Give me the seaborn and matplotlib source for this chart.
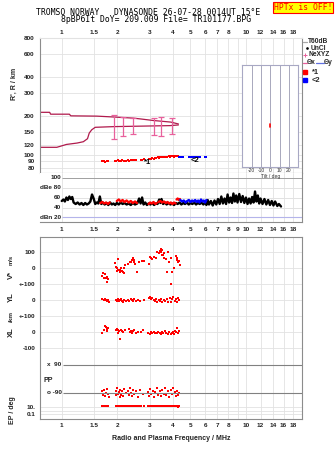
import numpy as np
import pandas as pd
import seaborn as sns
import matplotlib
matplotlib.use("Agg")
import matplotlib.pyplot as plt
from matplotlib.lines import Line2D
from matplotlib.ticker import NullLocator

# ---------------- data ----------------
grid_freqs = [1, 1.5, 2, 3, 4, 5, 6, 7, 8, 9, 10, 12, 14, 16, 18]
top_freq_labels = ["1", "1.5", "2", "3", "4", "5", "6", "7", "8", "", "10", "12", "14", "16", "18"]
mid_freq_labels = ["1", "1.5", "2", "3", "4", "5", "6", "7", "8", "9", "10", "12", "14", "16", "18"]
range_ticks = [80, 90, 100, 120, 150, 200, 300, 400, 600, 800]
range_labels = ["80", "90", "100", "120", "150", "200", "300", "400", "600", "800"]

upper_f = [0.762, 0.86, 0.87, 1.10, 1.12, 1.55, 1.90, 2.45, 2.70, 3.15, 3.90, 4.30]
upper_r = [214, 214, 207, 207, 201, 200, 197, 193, 190, 185, 180, 174]
lower_f = [0.762, 0.94, 1.00, 1.06, 1.21, 1.31, 1.38, 1.41, 1.455, 1.52, 1.91, 3.88, 4.30]
lower_r = [115, 115, 118, 121, 124, 127, 134, 148, 157, 164, 166, 169, 171]

err_f = [1.93, 2.14, 2.45, 3.15, 3.46, 3.99]
err_lo = [133, 141, 145, 143, 141, 145]
err_hi = [205, 197, 193, 195, 197, 193]

o_f = [1.66, 1.69, 1.72, 1.75, 1.78, 1.95, 1.98, 2.01, 2.04, 2.07, 2.10, 2.13, 2.17, 2.22,
       2.28, 2.33, 2.38, 2.43, 2.48, 2.53, 2.68, 2.74, 2.80, 2.96, 3.00, 3.05, 3.10, 3.15,
       3.20, 3.26, 3.31, 3.37, 3.43, 3.50, 3.56, 3.62, 3.68, 3.75, 3.82, 3.88, 3.94, 4.00,
       4.06, 4.12, 4.18, 4.24, 4.30]
o_r = [89.5, 90.5, 89, 90, 89.5, 91, 90, 91.5, 90.5, 91, 90, 91.5, 90.5, 91,
       91.5, 91, 92, 91.5, 92, 91.5, 92.5, 92, 93, 93, 94, 93.5, 94.5, 94,
       95, 94.5, 96, 95.5, 96.5, 96, 97, 96.5, 97.5, 97, 98, 97, 98.5, 98,
       97.5, 98.5, 98, 99, 98]
x_f = [4.35, 4.42, 4.50, 4.58, 4.88, 4.95, 5.03, 5.10, 5.18, 5.27, 5.35, 5.45, 5.55, 5.62, 6.02, 6.10]
x_r = [96.5, 96, 96.5, 96, 96.5, 97, 96, 96.5, 97, 96, 96.5, 97, 96, 96.5, 97, 97.5]

tilt_x = [0, 0]
tilt_r = [164, 173]

# amplitude trace (dB)
amp_f = [1.00, 1.02, 1.04, 1.06, 1.08, 1.10, 1.12, 1.14, 1.16, 1.19, 1.22, 1.25, 1.28, 1.31,
         1.34, 1.37, 1.40, 1.43, 1.46, 1.49, 1.52, 1.55, 1.58, 1.61, 1.64, 1.67, 1.71, 1.75,
         1.79, 1.83, 1.87, 1.91, 1.95, 1.99, 2.04, 2.09, 2.14, 2.19, 2.25, 2.31, 2.37, 2.43,
         2.50, 2.57, 2.63, 2.68, 2.73, 2.78, 2.84, 2.90, 2.96, 3.03, 3.10, 3.17, 3.24, 3.31,
         3.38, 3.43, 3.48, 3.55, 3.63, 3.71, 3.80, 3.89, 3.98, 4.07, 4.16, 4.26, 4.36, 4.46,
         4.56, 4.67, 4.78, 4.89, 5.00, 5.12, 5.24, 5.36, 5.48, 5.61, 5.74, 5.87, 6.00, 6.10,
         6.20, 6.30, 6.45, 6.60, 6.75, 6.90, 7.05, 7.20, 7.35, 7.50, 7.65, 7.80, 7.95, 8.10,
         8.25, 8.40, 8.55, 8.70, 8.85, 9.00, 9.20, 9.40, 9.60, 9.80, 10.0, 10.2, 10.4, 10.6,
         10.8, 11.0, 11.2, 11.4, 11.6, 11.8, 12.0, 12.3, 12.6, 12.9, 13.2, 13.5, 13.8, 14.1,
         14.4, 14.8, 15.1, 15.5]
amp_db = [53, 56, 52, 60, 55, 62, 57, 61, 50, 47, 50, 46, 49, 45,
          49, 46, 48, 52, 66, 58, 47, 50, 48, 62, 47, 50, 46, 49,
          45, 50, 46, 48, 45, 49, 46, 50, 47, 49, 46, 48, 45, 49,
          46, 48, 58, 48, 60, 46, 50, 45, 48, 46, 49, 45, 48, 47,
          56, 49, 57, 47, 50, 46, 49, 46, 48, 45, 49, 47, 50, 46,
          49, 47, 50, 46, 49, 47, 50, 46, 49, 47, 50, 46, 50, 45,
          55, 46, 53, 44, 54, 46, 57, 47, 62, 48, 58, 47, 66, 50,
          60, 49, 68, 52, 64, 50, 67, 51, 63, 49, 60, 47, 58, 48,
          61, 50, 72, 52, 64, 48, 58, 47, 57, 46, 55, 45, 53, 44,
          52, 43, 47, 42]

amp_o_seg = [1] * 6 + [2] * 11 + [3] * 6 + [4] * 11 + [5] * 4
amp_o_f = [1.62, 1.66, 1.70, 1.74, 1.78, 1.82,
           1.99, 2.04, 2.09, 2.14, 2.19, 2.25, 2.31, 2.37, 2.43, 2.50, 2.56,
           2.96, 3.02, 3.08, 3.15, 3.22, 3.28,
           3.35, 3.43, 3.51, 3.59, 3.67, 3.75, 3.83, 3.91, 3.99, 4.07, 4.15,
           4.20, 4.26, 4.32, 4.38]
amp_o_db = [49, 51, 48, 50, 47, 50,
            53, 56, 52, 55, 51, 54, 50, 53, 49, 52, 49,
            47, 50, 48, 51, 47, 49,
            51, 53, 50, 52, 49, 51, 48, 50, 47, 50, 48,
            56, 58, 55, 57]
amp_x_f = [4.40, 4.50, 4.60, 4.70, 4.80, 4.90, 5.00, 5.10, 5.20, 5.30, 5.40, 5.50, 5.60, 5.70,
           5.80, 5.90, 6.00, 6.10]
amp_x_db = [55, 52, 54, 50, 53, 55, 51, 54, 52, 55, 51, 54, 50, 56, 52, 54, 50, 55]

# velocity components (m/s)
vs_f = [1.65, 1.68, 1.72, 1.74, 1.76, 1.77, 1.79, 1.70, 1.95, 1.97, 1.99, 2.00, 2.03, 2.06,
        2.08, 2.10, 2.12, 2.15, 2.17, 2.18, 2.21, 2.03, 2.30, 2.34, 2.38, 2.41, 2.44, 2.46,
        2.48, 2.51, 2.56, 2.62, 2.73, 2.79, 2.97, 3.00, 3.06, 3.09, 3.16, 3.23, 3.30, 3.37,
        3.41, 3.44, 3.47, 3.51, 3.55, 3.59, 3.61, 3.66, 3.71, 3.82, 3.77, 3.93, 3.98, 4.06,
        4.15, 4.20, 4.24, 4.28, 4.33, 4.37, 3.90, 3.48]
vs_v = [-48, -33, -40, -60, -54, -85, -69, -60, 29, 8, -2, -19, -12, -23,
        -12, 2, -17, -23, -2, -33, 19, 54, 23, 40, 35, 50, 60, 40,
        52, 23, -23, 40, 44, 44, 23, 71, 60, 54, 71, 65, 102, 92,
        106, 119, 102, 112, 81, 92, 60, 54, -23, 40, 102, 65, -23, -2,
        75, 60, 50, 40, 44, 19, -102, 81]

yl_f = [1.66, 1.69, 1.72, 1.74, 1.76, 1.78, 1.80, 1.96, 1.99, 2.02, 2.05, 2.07, 2.10, 2.12,
        2.15, 2.18, 2.22, 2.30, 2.33, 2.37, 2.40, 2.44, 2.48, 2.52, 2.58, 2.65, 2.78, 2.96,
        3.00, 3.04, 3.08, 3.16, 3.20, 3.25, 3.30, 3.36, 3.42, 3.47, 3.52, 3.58, 3.65, 3.72,
        3.78, 3.85, 3.90, 3.96, 4.03, 4.10, 4.15, 4.22, 4.28, 4.35]
yl_v = [5, -3, 8, 0, -5, 3, -12, 2, -6, 4, -8, 0, 6, -4,
        -10, 2, -6, 3, -8, 5, -2, -5, 4, -9, 0, -4, 2, 10,
        18, 8, 14, -2, -8, 4, -12, 2, -4, 6, -14, 0, -6, 4,
        -10, 12, -15, 8, 16, -6, 4, -12, 10, -2]

xl_f = [1.66, 1.69, 1.71, 1.73, 1.75, 1.77, 1.79, 1.96, 1.99, 2.01, 2.03, 2.05, 2.08, 2.10,
        2.12, 2.15, 2.20, 2.31, 2.34, 2.37, 2.40, 2.44, 2.48, 2.52, 2.58, 2.68, 2.77, 2.95,
        3.00, 3.05, 3.10, 3.16, 3.22, 3.28, 3.35, 3.40, 3.45, 3.50, 3.56, 3.62, 3.70, 3.78,
        3.84, 3.90, 3.97, 4.03, 4.08, 4.13, 4.18, 4.22, 4.28, 4.33]
xl_v = [-5, 15, 40, 30, 20, 8, 25, 10, 20, -6, 12, 4, -44, 15,
        6, 2, 10, 18, 0, 8, -4, 4, 10, -8, -2, 0, 12, -4,
        -10, -2, -8, 0, -6, -4, 2, -6, -10, -2, -8, 4, -4, -10,
        2, -12, -6, 0, -14, 6, 2, 24, -8, 4]

pp_f = [1.66, 1.68, 1.70, 1.72, 1.74, 1.76, 1.78, 1.80, 1.96, 1.98, 2.00, 2.02, 2.04, 2.06,
        2.08, 2.10, 2.13, 2.16, 2.19, 2.22, 2.30, 2.33, 2.36, 2.39, 2.42, 2.45, 2.48, 2.52,
        2.58, 2.66, 2.75, 2.95, 2.99, 3.03, 3.07, 3.12, 3.17, 3.22, 3.28, 3.34, 3.40, 3.46,
        3.52, 3.58, 3.64, 3.70, 3.77, 3.84, 3.90, 3.97, 4.04, 4.10, 4.16, 4.22, 4.28, 4.34]
pp_deg = [-80, -100, -70, -110, -90, -65, -95, -115, -75, -105, -60, -95, -85, -115,
          -70, -100, -80, -110, -65, -90, -75, -105, -60, -90, -110, -70, -95, -80,
          -115, -70, -95, -85, -110, -65, -95, -75, -115, -85, -60, -100, -80, -110,
          -70, -95, -60, -105, -80, -115, -70, -95, -60, -85, -110, -75, -100, -88]

ep_f = [1.66, 1.69, 1.72, 1.75, 1.78, 1.96, 1.99, 2.02, 2.05, 2.08, 2.11, 2.14, 2.17, 2.20,
        2.27, 2.31, 2.35, 2.39, 2.43, 2.47, 2.51, 2.55, 2.62, 2.70, 2.78, 2.94, 2.98, 3.02,
        3.06, 3.10, 3.15, 3.20, 3.25, 3.30, 3.35, 3.41, 3.46, 3.52, 3.58, 3.64, 3.70, 3.76,
        3.82, 3.88, 3.95, 4.02, 4.08, 4.15, 4.21, 4.27, 4.33]
ep_deg = [18, 15, 20, 16, 19, 17, 22, 15, 19, 16, 21, 18, 14, 19,
          17, 20, 15, 18, 22, 16, 19, 15, 18, 14, 17, 19, 16, 21,
          17, 14, 19, 16, 20, 15, 18, 22, 17, 14, 19, 16, 21, 15,
          18, 14, 19, 16, 20, 15, 18, 13, 19]

# ---------------- style / layout ----------------
sns.set_theme(style="white")
plt.rcParams['font.family'] = ['Liberation Sans', 'DejaVu Sans']

W, H = 335, 451
FLIM = (0.762, 20.15)
GRID = '#e2e2e2'
SPINE = '#8c8c8c'
CRIMSON = '#b01a4c'
PINK = '#e8609c'
TFS = 4.6

fig = plt.figure(figsize=(W / 100, H / 100), dpi=100)


def rect(l, t, r, b):
    return [l / W, 1 - b / H, (r - l) / W, (b - t) / H]


def fx(x):
    return x / W


def fy(y):
    return 1 - y / H


def freq_axis(ax):
    ax.set_xscale('log')
    ax.set_xlim(*FLIM)
    ax.set_xticks(grid_freqs)
    ax.xaxis.set_minor_locator(NullLocator())
    ax.grid(axis='x', color=GRID, lw=0.6)
    ax.set_axisbelow(True)
    ax.tick_params(length=0, labelsize=TFS, colors='#222222')


def bold_ticks(ax):
    for t in ax.get_xticklabels() + ax.get_yticklabels():
        t.set_fontweight('bold')


def spines(ax, color=SPINE, lw=0.8):
    for s in ax.spines.values():
        s.set_color(color)
        s.set_linewidth(lw)


ax_top = fig.add_axes(rect(40, 38, 302, 173))
ax_db = fig.add_axes(rect(40, 173, 302, 222))
ax_bot = fig.add_axes(rect(40, 237, 302, 419))

# ---------------- top panel: range ----------------
freq_axis(ax_top)
ax_top.set_yscale('log')
ax_top.set_ylim(72.9, 800)
ax_top.set_yticks(range_ticks)
ax_top.set_yticklabels(range_labels)
ax_top.yaxis.set_minor_locator(NullLocator())
ax_top.grid(axis='y', color=GRID, lw=0.6)
ax_top.xaxis.tick_top()
ax_top.set_xticklabels(top_freq_labels)
ax_top.tick_params(axis='x', pad=2.0)
ax_top.tick_params(axis='y', pad=4.0)
spines(ax_top)
ax_top.spines['top'].set_color(GRID)

sns.lineplot(x=upper_f, y=upper_r, ax=ax_top, color=CRIMSON, lw=0.9,
             estimator=None, sort=False)
sns.lineplot(x=lower_f, y=lower_r, ax=ax_top, color=CRIMSON, lw=0.9,
             estimator=None, sort=False)
err_lo_a = np.array(err_lo, float)
err_hi_a = np.array(err_hi, float)
err_mid = (err_lo_a + err_hi_a) / 2
ax_top.errorbar(err_f, err_mid, yerr=[err_mid - err_lo_a, err_hi_a - err_mid], fmt='none',
                ecolor=PINK, elinewidth=0.9, capsize=2.0, capthick=0.9)
sns.scatterplot(x=o_f, y=o_r, ax=ax_top, color='#ff0000', marker='s', s=4, linewidth=0)
sns.scatterplot(x=x_f, y=x_r, ax=ax_top, color='#0000ff', marker='s', s=4, linewidth=0)
ax_top.text(2.93, 88.5, "*1", fontsize=5.5, fontweight='bold', ha='center', va='center', color='black')
ax_top.text(5.30, 90.5, "<2", fontsize=5.5, fontweight='bold', ha='center', va='center', color='black')
ax_top.set_xlabel('')
ax_top.set_ylabel('')
bold_ticks(ax_top)

# inset tilt panel
ax_in = fig.add_axes(rect(242.3, 65, 298.3, 167.3))
ax_in.set_facecolor('white')
ax_in.set_xlim(-30, 30)
ax_in.set_yscale('log')
ax_in.set_ylim(80.3, 496)
ax_in.set_yticks([])
ax_in.yaxis.set_minor_locator(NullLocator())
ax_in.set_xticks([-20, -10, 0, 10, 20])
ax_in.set_xticklabels(["-20", "-10", "0", "10", "20"])
ax_in.grid(axis='x', color='#a8a8bc', lw=0.7)
ax_in.tick_params(length=0, labelsize=3.6, pad=0.8, colors='#333333')
ax_in.set_xlabel("Tilt / deg", fontsize=3.6, labelpad=0.2, color='#333333')
spines(ax_in, '#a8a8c4', 0.8)
sns.lineplot(x=tilt_x, y=tilt_r, ax=ax_in, color='#ff0000', lw=1.2, estimator=None, sort=False)
ax_in.set_ylabel('')

# ---------------- dB panel ----------------
freq_axis(ax_db)
ax_db.set_ylim(11, 109)
ax_db.set_yticks([])
ax_db.set_xticklabels(mid_freq_labels)
ax_db.tick_params(axis='x', pad=3.6)
spines(ax_db)
ax_db.spines['left'].set_visible(False)
ax_db.spines['top'].set_visible(False)
ax_db.hlines([100], 1.0, FLIM[1], color='#a0a0a0', lw=0.7, zorder=1)
ax_db.hlines([80, 60, 40], 1.0, FLIM[1], color=GRID, lw=0.7, zorder=1)
ax_db.hlines([20], 1.0, FLIM[1], color='#b4b4ea', lw=0.8, zorder=1)
for v, s in [(100, "100"), (80, "dBe 80"), (60, "60"), (40, "40"), (20, "dBn 20")]:
    ax_db.text(0.99, v, s, ha='right', va='center', fontsize=TFS, fontweight='bold', color='#222222')
sns.lineplot(x=amp_f, y=amp_db, ax=ax_db, color='black', lw=1.7, estimator=None, sort=False)
amp_o = pd.DataFrame({'f': amp_o_f, 'db': amp_o_db, 'seg': amp_o_seg})
sns.lineplot(data=amp_o, x='f', y='db', units='seg', ax=ax_db, color='#ff0000', lw=1.7,
             estimator=None, sort=False)
sns.lineplot(x=amp_x_f, y=amp_x_db, ax=ax_db, color='#0000ff', lw=1.7, estimator=None, sort=False)
ax_db.set_xlabel('')
ax_db.set_ylabel('')
bold_ticks(ax_db)

# ---------------- bottom panel: velocities, polarization ----------------
freq_axis(ax_bot)
ax_bot.set_ylim(-151, 31)
bot_ticks = [16, 0, -16, -32, -48, -64, -80, -139, -142.5, -146]
bot_labels = ["100", "0", "+-100", "0", "+-100", "0", "-100", "10.", "", "0.1"]
ax_bot.set_yticks(bot_ticks)
ax_bot.set_yticklabels(bot_labels)
ax_bot.grid(axis='y', color=GRID, lw=0.6)
ax_bot.set_xticklabels(top_freq_labels)
ax_bot.tick_params(axis='x', pad=3.0)
ax_bot.tick_params(axis='y', pad=3.5)
spines(ax_bot)
ax_bot.hlines([-97, -125], 1.02, FLIM[1], color='#808080', lw=0.8, zorder=1.5)
ax_bot.text(0.83, -97, "x  90", fontsize=TFS, fontweight='bold', ha='left', va='center', color='#222222')
ax_bot.text(0.83, -125, "o -90", fontsize=TFS, fontweight='bold', ha='left', va='center', color='#222222')
ax_bot.text(0.80, -112, "PP", fontsize=TFS + 0.4, fontweight='bold', ha='left', va='center', color='#222222')

vs_u = 0.16 * np.array(vs_v, float)
yl_u = -32 + 0.16 * np.array(yl_v, float)
xl_u = -64 + 0.16 * np.array(xl_v, float)
pp_u = -111 + np.array(pp_deg, float) * 28 / 180
ep_u = -146 + 3.5 * (np.log10(np.array(ep_deg, float)) + 1)
for fr, uu in [(vs_f, vs_u), (yl_f, yl_u), (xl_f, xl_u), (pp_f, pp_u), (ep_f, ep_u)]:
    sns.scatterplot(x=fr, y=uu, ax=ax_bot, color='#ff0000', marker='s', s=4, linewidth=0)
ax_bot.set_xlabel('')
ax_bot.set_ylabel('')
bold_ticks(ax_bot)

# ---------------- figure texts ----------------
mono = 'DejaVu Sans Mono'
fig.text(fx(148.5), fy(12.3), "TROMSO NORWAY   DYNASONDE 26-07-28 0014UT 15°E",
         family=mono, fontsize=5.9, ha='center', va='center', color='black')
fig.text(fx(156.5), fy(20), "8pBP6It DoY= 209.009 File= TR101177.BPG",
         family=mono, fontsize=5.9, ha='center', va='center', color='black')
fig.text(fx(302.8), fy(7.5), "HPTx is OFF!", family=mono, fontsize=5.8, ha='center', va='center',
         color='#ff0000',
         bbox=dict(boxstyle='square,pad=0.12', facecolor='#ffff00', edgecolor='#ff0000', lw=0.8))

fig.text(fx(14), fy(84), "R', R / km", rotation=90, fontsize=5, fontweight='bold', ha='center', va='center')
fig.text(fx(11), fy(275), "V*", rotation=90, fontsize=5.5, fontweight='bold', ha='center', va='center')
fig.text(fx(11), fy(260), "m/s", rotation=90, fontsize=4.2, fontweight='bold', ha='center', va='center')
fig.text(fx(11), fy(297), "YL", rotation=90, fontsize=5.5, fontweight='bold', ha='center', va='center')
fig.text(fx(11), fy(316), "/km", rotation=90, fontsize=4.6, fontweight='bold', ha='center', va='center')
fig.text(fx(11), fy(332.5), "XL", rotation=90, fontsize=5.5, fontweight='bold', ha='center', va='center')
fig.text(fx(12), fy(410), "EP / deg", rotation=90, fontsize=5, fontweight='bold', ha='center', va='center')
fig.text(fx(171), fy(439), "Radio and Plasma Frequency / MHz", fontsize=5, fontweight='bold',
         ha='center', va='center', color='#222222')

# legend at right
LFS = 4.8
fig.add_artist(Line2D([fx(302.7), fx(307.3)], [fy(41.7), fy(41.7)], color='#a8a8a8', lw=0.9))
fig.text(fx(307.6), fy(41.7), "T60dB", fontsize=LFS, fontweight='bold', ha='left', va='center')
fig.add_artist(Line2D([fx(306.7)], [fy(48.3)], marker='o', ms=0.9, color='black', lw=0))
fig.text(fx(310.5), fy(48.3), "UnCl", fontsize=LFS, fontweight='bold', ha='left', va='center')
fig.add_artist(Line2D([fx(305)], [fy(55)], marker='+', ms=3.5, mew=0.7, color=PINK, lw=0))
fig.text(fx(308.8), fy(55), "NeXYZ", fontsize=LFS, fontweight='bold', ha='left', va='center')
fig.add_artist(Line2D([fx(302.7), fx(306.7)], [fy(62.7), fy(62.7)], color=PINK, lw=0.9))
fig.text(fx(306.8), fy(62.7), "Θx", fontsize=LFS, fontweight='bold', ha='left', va='center')
fig.add_artist(Line2D([fx(316), fx(324)], [fy(62.7), fy(62.7)], color='#6070e0', lw=0.9))
fig.text(fx(324), fy(62.7), "Θy", fontsize=LFS, fontweight='bold', ha='left', va='center')
fig.add_artist(Line2D([fx(305)], [fy(72.3)], marker='s', ms=2.2, color='#ff0000', lw=0))
fig.text(fx(312), fy(72.3), "*1", fontsize=LFS + 0.6, fontweight='bold', ha='left', va='center')
fig.add_artist(Line2D([fx(305)], [fy(80)], marker='s', ms=2.2, color='#0000ff', lw=0))
fig.text(fx(312), fy(80), "<2", fontsize=LFS + 0.6, fontweight='bold', ha='left', va='center')

fig.savefig("out.png", dpi=100)
